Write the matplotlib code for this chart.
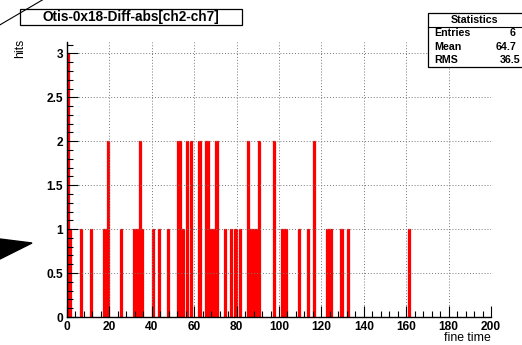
import matplotlib
matplotlib.use("Agg")
import matplotlib.pyplot as plt
from matplotlib.patches import Rectangle, Polygon
from matplotlib.lines import Line2D
from matplotlib.ticker import MultipleLocator, FuncFormatter

W, H = 522, 345

# filled bins (1 unit wide) of the fine-time difference histogram
fine_time = [0, 1, 6, 11, 17, 18, 19, 25, 31, 32, 33, 34, 35, 40, 43, 47,
             52, 53, 54, 56, 58, 62, 65, 66, 67, 68, 69, 70, 74, 77, 79, 81,
             85, 86, 87, 88, 89, 90, 97, 101, 102, 103, 109, 113, 116,
             122, 123, 124, 129, 132, 161]
hits = [3, 1, 1, 1, 1, 1, 2, 1, 1, 1, 1, 2, 1, 1, 1, 1,
        2, 2, 1, 2, 2, 2, 2, 2, 1, 1, 1, 2, 1, 1, 1, 1,
        2, 1, 1, 1, 1, 2, 2, 1, 1, 1, 1, 1, 2,
        1, 1, 1, 1, 1, 1]

title = "Otis-0x18-Diff-abs[ch2-ch7]"
stat_names = ["Entries", "Mean", "RMS"]
stat_values = ["6", "64.7", "36.5"]

plt.rcParams["font.family"] = ["Liberation Sans", "DejaVu Sans"]
plt.rcParams["font.weight"] = "bold"


def fx(px):
    return px / W


def fy(py):
    # pixel row (from top) -> figure fraction
    return 1 - py / H


fig = plt.figure(figsize=(W / 100, H / 100), dpi=100)
ax = fig.add_axes([fx(67), fy(317), 424 / W, 275 / H])

ax.bar(fine_time, hits, width=1, align="edge", color="red",
       edgecolor="red", linewidth=0.9)

ax.set_xlim(0, 200)
ax.set_ylim(0, 3.13)
ax.xaxis.set_major_locator(MultipleLocator(20))
ax.xaxis.set_minor_locator(MultipleLocator(4))
ax.yaxis.set_major_locator(MultipleLocator(0.5))
ax.yaxis.set_minor_locator(MultipleLocator(0.1))
fmt = FuncFormatter(lambda v, p: f"{v:g}")
ax.xaxis.set_major_formatter(fmt)
ax.yaxis.set_major_formatter(fmt)
ax.tick_params(which="both", direction="in", top=False, right=False, width=0.8)
ax.tick_params(which="major", length=8, labelsize=8.6, pad=3)
ax.tick_params(which="minor", length=4)
ax.grid(which="major", ls=(0, (1, 2)), color="#777777", lw=0.7)
for s in ("top", "right"):
    ax.spines[s].set_visible(False)
for s in ("left", "bottom"):
    ax.spines[s].set_linewidth(1.0)

ax.set_ylabel("hits", loc="top", fontsize=8.8)
ax.yaxis.set_label_coords(-0.097, 1.01)
ax.set_xlabel("fine time", loc="right", fontsize=8.8)
ax.xaxis.set_label_coords(1.0, -0.055)

# title box
fig.patches.append(Rectangle((fx(20), fy(25)), 222 / W, 15.7 / H,
                             transform=fig.transFigure, fill=False,
                             edgecolor="black", lw=0.9))
fig.text(fx(131), fy(17.5), title, ha="center", va="center", fontsize=9.8)

# statistics box (runs off the right edge of the canvas)
fig.patches.append(Rectangle((fx(428), fy(67)), 110 / W, 54.3 / H,
                             transform=fig.transFigure, facecolor="white",
                             edgecolor="black", lw=0.9))
fig.lines.append(Line2D([fx(428), fx(530)], [fy(27), fy(27)],
                        transform=fig.transFigure, color="black", lw=0.8))
fig.text(fx(474), fy(20), "Statistics", ha="center", va="center", fontsize=7.7)
for i, (name, val) in enumerate(zip(stat_names, stat_values)):
    y = fy(33.5 + 13.3 * i)
    fig.text(fx(434), y, name, ha="left", va="center", fontsize=7.7)
    fig.text(fx(516 if i < 2 else 520), y, val, ha="right", va="center",
             fontsize=7.7)

# stray canvas decorations
fig.lines.append(Line2D([fx(-2), fx(44)], [fy(26), fy(-1)],
                        transform=fig.transFigure, color="black", lw=0.8))
fig.patches.append(Polygon([(fx(0), fy(239)), (fx(32), fy(243)), (fx(0), fy(259))],
                           closed=True, transform=fig.transFigure,
                           facecolor="black", edgecolor="black"))

fig.savefig("out.png", dpi=100)
